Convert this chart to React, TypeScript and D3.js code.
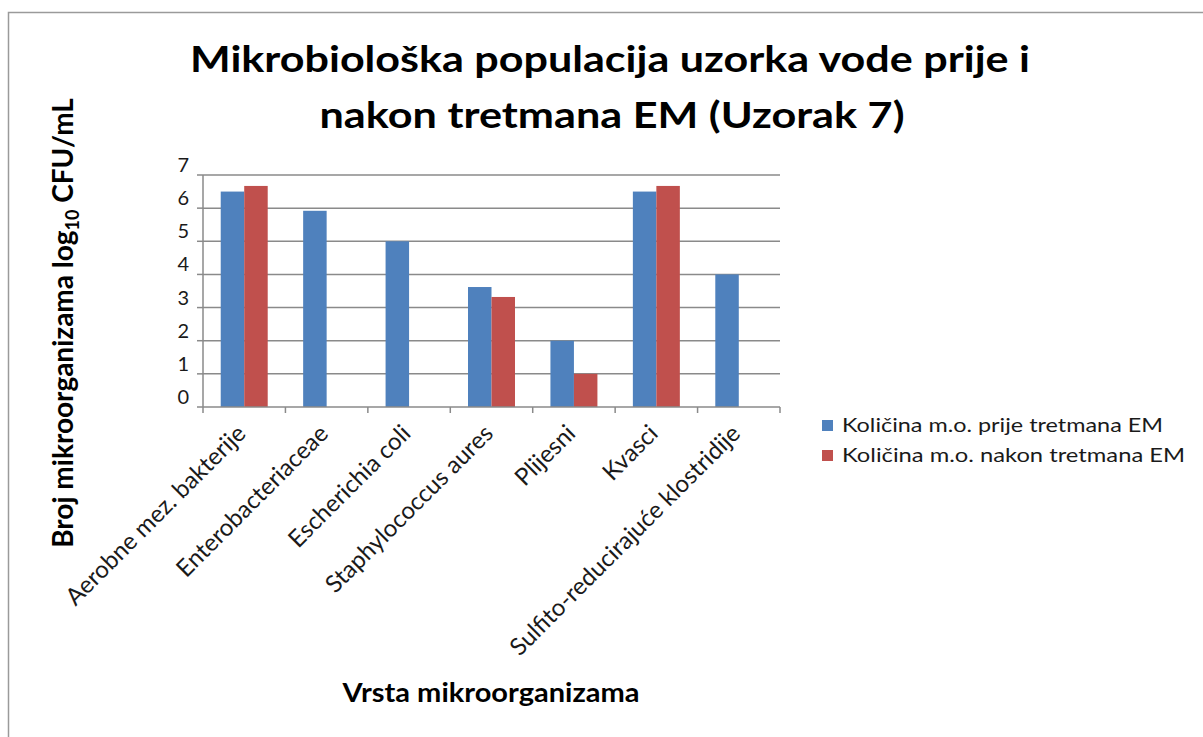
import React, { useEffect, useRef } from 'react';
import * as d3 from 'd3';

const categories = [
  'Aerobne mez. bakterije',
  'Enterobacteriaceae',
  'Escherichia coli',
  'Staphylococcus aures',
  'Plijesni',
  'Kvasci',
  'Sulfito-reducirajuće klostridije',
];
const seriesNames = ['Količina m.o. prije tretmana EM', 'Količina m.o. nakon tretmana EM'];
const beforeValues = [6.5, 5.92, 5.0, 3.62, 2.0, 6.5, 4.0];
const afterValues = [6.67, 0, 0, 3.32, 1.0, 6.67, 0];
const yTicks = [0, 1, 2, 3, 4, 5, 6, 7];
const colors = ['#4F81BD', '#C0504D'];

const W = 1203;
const H = 737;
const FONT = 'Lato, "Open Sans", sans-serif';

const App: React.FC = () => {
  const svgRef = useRef<SVGSVGElement>(null);

  useEffect(() => {
    if (!svgRef.current) return;
    const svg = d3.select(svgRef.current);
    svg.selectAll('*').remove();

    const plot = { left: 203, right: 780, top: 175, bottom: 407 };

    const x0 = d3.scaleBand<string>()
      .domain(categories)
      .range([plot.left, plot.right])
      .paddingInner(0.43)
      .paddingOuter(0.215);
    const x1 = d3.scaleBand<string>()
      .domain(seriesNames)
      .range([0, x0.bandwidth()]);
    const y = d3.scaleLinear().domain([0, 7]).range([plot.bottom, plot.top]);

    // outer frame (only top and left edges visible in the source)
    svg.append('path')
      .attr('d', `M8.5,${H + 2} L8.5,12.5 L${W + 2},12.5`)
      .attr('fill', 'none')
      .attr('stroke', '#9a9a9a')
      .attr('stroke-width', 1.5);

    // title
    const title = svg.append('text')
      .attr('text-anchor', 'middle')
      .style('font-family', FONT)
      .style('font-weight', 'bold')
      .style('font-size', '36px')
      .attr('fill', '#000');
    title.append('tspan').attr('x', 610).attr('y', 72)
      .attr('textLength', 840).attr('lengthAdjust', 'spacingAndGlyphs')
      .text('Mikrobiološka populacija uzorka vode prije i');
    title.append('tspan').attr('x', 612).attr('y', 128)
      .attr('textLength', 585).attr('lengthAdjust', 'spacingAndGlyphs')
      .text('nakon tretmana EM (Uzorak 7)');

    // gridlines
    svg.append('g')
      .selectAll('line')
      .data(yTicks.filter(t => t > 0))
      .enter().append('line')
      .attr('x1', plot.left)
      .attr('x2', plot.right)
      .attr('y1', d => y(d))
      .attr('y2', d => y(d))
      .attr('stroke', '#8a8a8a')
      .attr('stroke-width', 1.5);

    // bars
    const groups = svg.append('g')
      .selectAll('g')
      .data(categories)
      .enter().append('g')
      .attr('transform', d => `translate(${x0(d)},0)`);

    groups.selectAll('rect')
      .data((_d, i) => [beforeValues[i], afterValues[i]].map((v, s) => ({ v, s })))
      .enter().append('rect')
      .attr('x', d => x1(seriesNames[d.s]) as number)
      .attr('width', x1.bandwidth())
      .attr('y', d => y(d.v))
      .attr('height', d => y(0) - y(d.v))
      .attr('fill', d => colors[d.s]);

    // y axis
    const yAxis = svg.append('g');
    yAxis.append('line')
      .attr('x1', plot.left).attr('x2', plot.left)
      .attr('y1', plot.top).attr('y2', plot.bottom)
      .attr('stroke', '#8a8a8a').attr('stroke-width', 1.5);
    yAxis.selectAll('.tick')
      .data(yTicks)
      .enter().append('line')
      .attr('x1', plot.left - 6).attr('x2', plot.left)
      .attr('y1', d => y(d)).attr('y2', d => y(d))
      .attr('stroke', '#8a8a8a').attr('stroke-width', 1.5);
    yAxis.selectAll('text')
      .data(yTicks)
      .enter().append('text')
      .attr('x', plot.left - 14)
      .attr('y', d => y(d) - 3)
      .attr('text-anchor', 'end')
      .style('font-family', FONT)
      .style('font-size', '20px')
      .attr('fill', '#1a1a1a')
      .text(d => d);

    // x axis
    const xAxis = svg.append('g');
    xAxis.append('line')
      .attr('x1', plot.left).attr('x2', plot.right)
      .attr('y1', plot.bottom).attr('y2', plot.bottom)
      .attr('stroke', '#8a8a8a').attr('stroke-width', 1.5);
    const step = x0.step();
    xAxis.selectAll('.tick')
      .data(d3.range(categories.length + 1))
      .enter().append('line')
      .attr('x1', i => plot.left + i * step).attr('x2', i => plot.left + i * step)
      .attr('y1', plot.bottom).attr('y2', plot.bottom + 6)
      .attr('stroke', '#8a8a8a').attr('stroke-width', 1.5);
    xAxis.selectAll('text')
      .data(categories)
      .enter().append('text')
      .attr('transform', d => {
        const cx = (x0(d) as number) + x0.bandwidth() / 2 + 3;
        return `translate(${cx},${plot.bottom + 28}) rotate(-45)`;
      })
      .attr('text-anchor', 'end')
      .style('font-family', FONT)
      .style('font-size', '24px')
      .attr('fill', '#1a1a1a')
      .text(d => d);

    // axis titles
    svg.append('text')
      .attr('x', 491)
      .attr('y', 702)
      .attr('text-anchor', 'middle')
      .attr('textLength', 297)
      .attr('lengthAdjust', 'spacingAndGlyphs')
      .style('font-family', FONT)
      .style('font-weight', 'bold')
      .style('font-size', '26px')
      .text('Vrsta mikroorganizama');

    const yTitle = svg.append('text')
      .attr('transform', 'translate(73,323) rotate(-90)')
      .attr('text-anchor', 'middle')
      .style('font-family', FONT)
      .style('font-weight', 'bold')
      .style('font-size', '28px');
    yTitle.append('tspan').text('Broj mikroorganizama log');
    yTitle.append('tspan').attr('dy', 6).style('font-size', '18px').text('10');
    yTitle.append('tspan').attr('dy', -6).text(' CFU/mL');

    // legend
    const legend = svg.append('g').attr('transform', 'translate(822,420)');
    const items = legend.selectAll('g')
      .data(seriesNames)
      .enter().append('g')
      .attr('transform', (_d, i) => `translate(0,${i * 30})`);
    items.append('rect')
      .attr('width', 11).attr('height', 11)
      .attr('fill', (_d, i) => colors[i]);
    items.append('text')
      .attr('x', 20)
      .attr('y', 12)
      .attr('textLength', (_d, i) => (i === 0 ? 321 : 343))
      .attr('lengthAdjust', 'spacingAndGlyphs')
      .style('font-family', FONT)
      .style('font-size', '19px')
      .attr('fill', '#1a1a1a')
      .text(d => d);
  }, []);

  return (
    <div style={{ position: 'absolute', left: 0, top: 0, width: W, height: H, background: '#fff' }}>
      <svg ref={svgRef} width={W} height={H} style={{ display: 'block' }} />
    </div>
  );
};

export default App;
